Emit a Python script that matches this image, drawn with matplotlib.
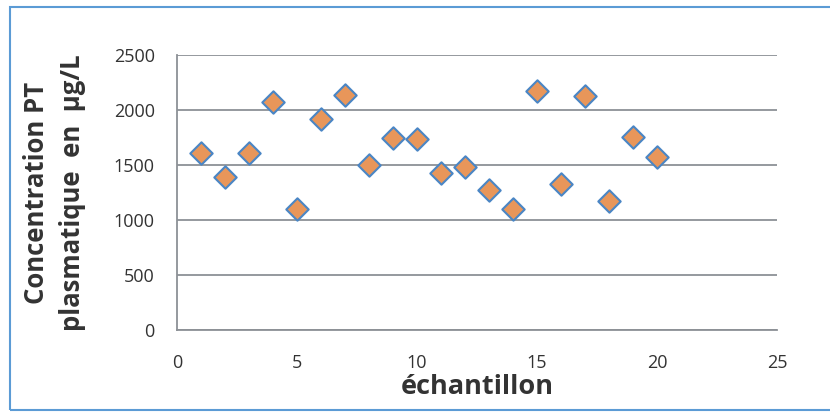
import matplotlib.pyplot as plt
from matplotlib.patches import Rectangle

plt.rcParams['font.family'] = ['Open Sans', 'DejaVu Sans']

echantillon = list(range(1, 21))
concentration = [1610, 1390, 1610, 2075, 1100, 1920, 2135, 1500, 1745, 1735,
                 1425, 1480, 1270, 1100, 2175, 1330, 2130, 1175, 1755, 1570]

fig = plt.figure(figsize=(8.3, 4.13), dpi=100)
ax = fig.add_axes([177/830, 1 - 330/413, 600/830, 275/413])

ax.scatter(echantillon, concentration, marker='D', s=130, c='#E8965A',
           edgecolors='#4A86C5', linewidths=1.5, zorder=3)

ax.set_xlim(0, 25)
ax.set_ylim(0, 2500)
ax.set_xticks(range(0, 26, 5))
ax.set_yticks(range(0, 2501, 500))
ax.grid(axis='y', color='#8C9196', linewidth=1.3)
ax.set_axisbelow(True)
for s in ['top', 'right']:
    ax.spines[s].set_visible(False)
for s in ['left', 'bottom']:
    ax.spines[s].set_color('#8C9196')
    ax.spines[s].set_linewidth(1.3)
ax.tick_params(length=0, labelsize=13, colors='#333333')
ax.tick_params(axis='x', pad=17)
ax.tick_params(axis='y', pad=16)

ax.set_xlabel('échantillon', fontsize=19.5, fontweight='bold', color='#333333', labelpad=2)
ax.set_ylabel('Concentration PT\nplasmatique  en  µg/L', fontsize=18.5, fontweight='bold',
              color='#333333', labelpad=20, linespacing=1.42)

# outer chart frame (right side runs off the image)
fig.patches.append(Rectangle((10/830, 3/413), 830/830, 403/413, transform=fig.transFigure,
                             fill=False, edgecolor='#5B9BD5', linewidth=1.5))

fig.savefig('out.png', dpi=100)
